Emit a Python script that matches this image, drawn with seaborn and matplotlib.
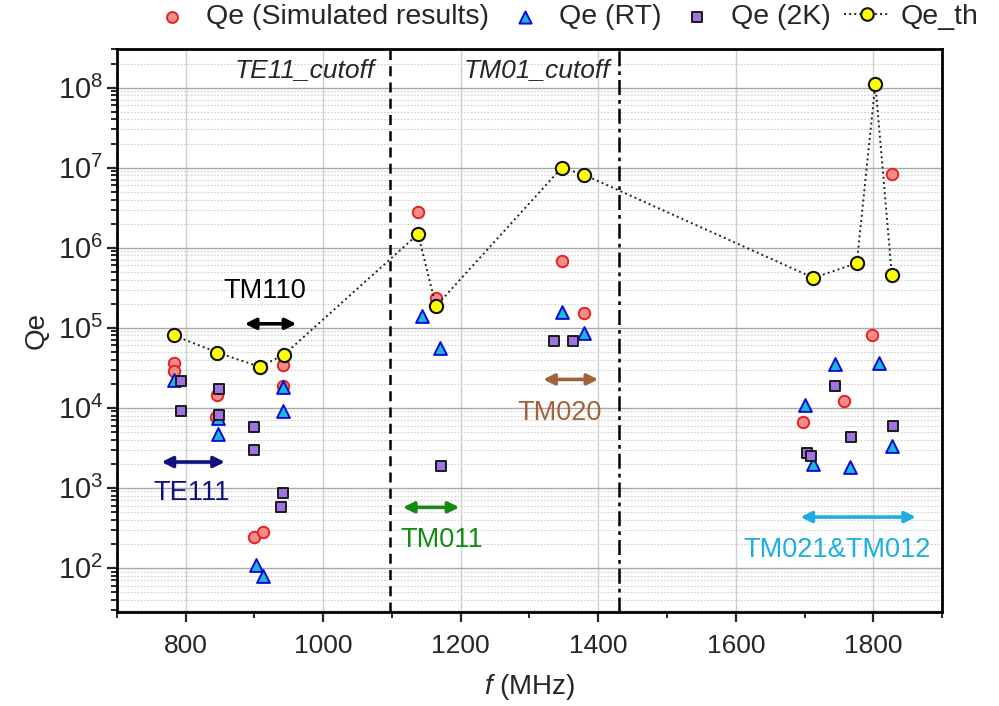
import numpy as np
import pandas as pd
import matplotlib
matplotlib.use("Agg")
import matplotlib.pyplot as plt
import matplotlib.ticker as mticker
import seaborn as sns

# Measured / simulated external Q versus mode frequency
f_sim = [783, 783, 845, 844, 942, 942, 900, 913, 1138, 1164, 1347, 1379, 1827, 1798, 1757, 1698]
qe_sim = [3.6e4, 2.9e4, 1.45e4, 7.7e3, 3.4e4, 1.85e4, 240, 278, 2.8e6, 2.35e5, 6.8e5, 1.52e5,
          8.3e6, 8.0e4, 1.22e4, 6.6e3]

f_rt = [783, 847, 847, 942, 942, 902, 913, 1143, 1170, 1347, 1380, 1745, 1808, 1701, 1712, 1766, 1827]
qe_rt = [2.2e4, 7.4e3, 4.7e3, 1.8e4, 9.1e3, 108, 79, 1.42e5, 5.6e4, 1.55e5, 8.5e4, 3.5e4, 3.67e4,
         1.08e4, 1.97e3, 1.81e3, 3.33e3]

f_2k = [793, 793, 848, 848, 900, 900, 941, 938, 1171, 1335, 1363, 1744, 1828, 1768, 1704, 1709]
qe_2k = [2.15e4, 9.1e3, 1.7e4, 8.1e3, 5.8e3, 3.0e3, 870, 575, 1.9e3, 6.8e4, 6.8e4, 1.88e4, 6.0e3,
         4.36e3, 2.7e3, 2.5e3]

f_th = [783, 846, 908, 943, 1138, 1164, 1347, 1380, 1713, 1776, 1803, 1827]
qe_th = [8.0e4, 4.9e4, 3.25e4, 4.6e4, 1.48e6, 1.86e5, 1.0e7, 8.1e6, 4.2e5, 6.4e5, 1.11e8, 4.5e5]

# Waveguide cutoff frequencies (MHz)
f_te11_cutoff = 1097
f_tm01_cutoff = 1430

# Mode bands: label, f_start, f_end, Qe level of arrow, colour, label position
mode_bands = [
    ("TE111", 765, 857, 2.1e3, "#10107f", (808, 860)),
    ("TM110", 886, 961, 1.12e5, "black", (915, 2.9e5)),
    ("TM011", 1116, 1198, 570, "#138a13", (1172, 225)),
    ("TM020", 1320, 1400, 2.26e4, "#a0643c", (1344, 8.5e3)),
    ("TM021&TM012", 1694, 1862, 431, "#1eaee0", (1747, 169)),
]

sns.set_theme(style="ticks")
plt.rcParams["font.family"] = ["Liberation Sans", "DejaVu Sans"]
plt.rcParams["mathtext.fontset"] = "custom"
plt.rcParams["mathtext.rm"] = "Liberation Sans"
plt.rcParams["mathtext.it"] = "Liberation Sans:italic"

fig = plt.figure(figsize=(9.99, 7.06), dpi=100)
ax = fig.add_axes([0.117, 0.133, 0.826, 0.797])

df_sim = pd.DataFrame({"f": f_sim, "qe": qe_sim})
df_rt = pd.DataFrame({"f": f_rt, "qe": qe_rt})
df_2k = pd.DataFrame({"f": f_2k, "qe": qe_2k})
df_th = pd.DataFrame({"f": f_th, "qe": qe_th})

sns.scatterplot(data=df_sim, x="f", y="qe", ax=ax, marker="o", s=68,
                color="#f58c8c", edgecolor="#e52222", linewidth=1.4,
                label="Qe (Simulated results)", zorder=4)
sns.scatterplot(data=df_rt, x="f", y="qe", ax=ax, marker="^", s=85,
                color="#1cb8d8", edgecolor="#0a0ad8", linewidth=1.4,
                label="Qe (RT)", zorder=5)
sns.scatterplot(data=df_2k, x="f", y="qe", ax=ax, marker="s", s=58,
                color="#a072e4", edgecolor="#1a1a1a", linewidth=1.4,
                label="Qe (2K)", zorder=6)
sns.lineplot(data=df_th, x="f", y="qe", ax=ax, sort=False, estimator=None,
             color="#222222", linestyle=":", linewidth=1.4, marker="o",
             markersize=9.5, markerfacecolor="#ffff00", markeredgecolor="#111111",
             markeredgewidth=1.5, label="Qe_th", zorder=7)

ax.set_yscale("log")
ax.set_xlim(700, 1900)
ax.set_ylim(28, 3e8)

# cutoff markers
ax.axvline(f_te11_cutoff, color="black", linestyle=(0, (4, 2.5)), linewidth=1.8, zorder=3)
ax.axvline(f_tm01_cutoff, color="black", linestyle=(0, (6, 2, 1.5, 2)), linewidth=1.8, zorder=3)
ax.text(f_te11_cutoff - 22, 0.985, "TE11_cutoff", transform=ax.get_xaxis_transform(),
        ha="right", va="top", fontsize=19, style="italic")
ax.text(f_tm01_cutoff - 12, 0.985, "TM01_cutoff", transform=ax.get_xaxis_transform(),
        ha="right", va="top", fontsize=19, style="italic")

# mode bands
for name, f0, f1, q, col, (tx, ty) in mode_bands:
    ax.annotate("", xy=(f0, q), xytext=(f1, q),
                arrowprops=dict(arrowstyle="<|-|>", color=col, lw=2.6,
                                mutation_scale=16, shrinkA=0, shrinkB=0), zorder=3)
    ax.text(tx, ty, name, color=col, fontsize=19.5, ha="center", va="center")

# ticks and grid
ax.xaxis.set_major_locator(mticker.MultipleLocator(200))
ax.xaxis.set_minor_locator(mticker.MultipleLocator(100))
ax.yaxis.set_major_locator(mticker.LogLocator(base=10, numticks=20))
ax.yaxis.set_minor_locator(mticker.LogLocator(base=10, subs=np.arange(2, 10), numticks=20))
ax.yaxis.set_minor_formatter(mticker.NullFormatter())
ax.tick_params(axis="both", which="major", direction="out", length=7, width=1.6)
ax.tick_params(axis="x", which="major", labelsize=19, pad=8.5)
ax.tick_params(axis="y", which="major", labelsize=21, pad=3)
ax.tick_params(axis="both", which="minor", direction="out", length=4, width=1.4)
ax.grid(True, which="major", axis="y", color="#a8a8a8", linewidth=1.0)
ax.grid(True, which="major", axis="x", color="#cfcfcf", linewidth=1.0)
ax.grid(True, which="minor", axis="y", color="#d0d0d0", linestyle=(0, (1.5, 1.5)), linewidth=0.8)
ax.set_axisbelow(True)
for sp in ax.spines.values():
    sp.set_linewidth(2.0)
    sp.set_color("black")

ax.set_xlabel(r"$\mathit{f}$ (MHz)", fontsize=20, labelpad=10)
ax.set_ylabel("Qe", fontsize=20, labelpad=6)

handles, labels = ax.get_legend_handles_labels()
if ax.get_legend() is not None:
    ax.get_legend().remove()
fig.legend(handles, labels, loc="upper right", bbox_to_anchor=(0.984, 1.0), ncol=4,
           frameon=False, fontsize=20.5, markerscale=0.95, handlelength=1.6,
           handletextpad=0.4, columnspacing=0.45, borderaxespad=0.0, borderpad=0.15)

fig.savefig("out.png", dpi=100)
